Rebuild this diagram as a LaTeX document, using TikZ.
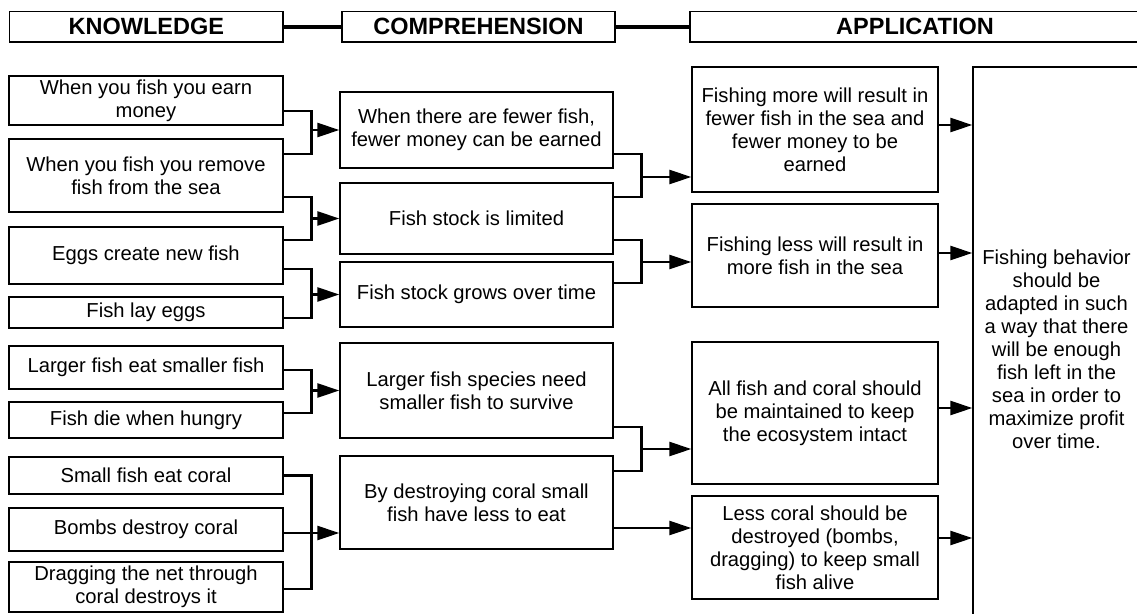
\documentclass[tikz,border=0pt]{standalone}
\usepackage{fontspec}
\setmainfont{Liberation Sans}
\usetikzlibrary{positioning,arrows.meta}

\begin{document}
\begin{tikzpicture}[x=1pt, y=-1pt, >={Triangle[length=22pt,width=14pt]},
		box/.style={draw, line width=1.3pt, align=center, inner sep=0pt, font=\fontsize{20.2}{23}\selectfont},
		kbox/.style={box, minimum width=274pt},
		cbox/.style={box, minimum width=273pt},
		abox/.style={box, minimum width=246pt},
		head/.style={draw, line width=1.3pt, inner sep=0pt, minimum height=30.6pt, font=\fontsize{23.5}{28}\selectfont\bfseries},
		link/.style={line width=2.3pt},
		headlink/.style={line width=4pt}]
		\clip (0,0) rectangle (1137,613);

		\node[head, minimum width=273.4pt] (hK) at (146.3,26.7) {KNOWLEDGE};
		\node[head, minimum width=273pt] (hC) at (478.5,26.7) {COMPREHENSION};
		\node[head, minimum width=450pt] (hA) at (915,26.7) {APPLICATION};
		\draw[headlink] (hK.east) -- (hC.west);
		\draw[headlink] (hC.east) -- (hA.west);

		\node[kbox, minimum height=49pt] (K1) at (146,100.5) {When you fish you earn\\money};
		\node[kbox, minimum height=73pt] (K2) at (146,175.5) {When you fish you remove\\fish from the sea};
		\node[kbox, minimum height=57pt] (K3) at (146,255.5) {Eggs create new fish};
		\node[kbox, minimum height=31pt] (K4) at (146,312.5) {Fish lay eggs};
		\node[kbox, minimum height=43pt] (K5) at (146,367.5) {Larger fish eat smaller fish};
		\node[kbox, minimum height=36pt] (K6) at (146,420) {Fish die when hungry};
		\node[kbox, minimum height=37pt] (K7) at (146,475.5) {Small fish eat coral};
		\node[kbox, minimum height=43pt] (K8) at (146,529.5) {Bombs destroy coral};
		\node[kbox, minimum height=50pt] (K9) at (146,587) {Dragging the net through\\coral destroys it};

		\node[cbox, minimum height=76pt] (C1) at (476.5,130) {When there are fewer fish,\\fewer money can be earned};
		\node[cbox, minimum height=71pt] (C2) at (476.5,218.5) {Fish stock is limited};
		\node[cbox, minimum height=65pt] (C3) at (476.5,294.5) {Fish stock grows over time};
		\node[cbox, minimum height=95pt] (C4) at (476.5,390.5) {Larger fish species need\\smaller fish to survive};
		\node[cbox, minimum height=93pt] (C5) at (476.5,502.5) {By destroying coral small\\fish have less to eat};

		\node[abox, minimum height=125pt] (A1) at (815,129.5) {Fishing more will result in\\fewer fish in the sea and\\fewer money to be\\earned};
		\node[abox, minimum height=103pt] (A2) at (815,255.5) {Fishing less will result in\\more fish in the sea};
		\node[abox, minimum height=142pt] (A3) at (815,413) {All fish and coral should\\be maintained to keep\\the ecosystem intact};
		\node[abox, minimum height=103pt] (A4) at (815,547.5) {Less coral should be\\destroyed (bombs,\\dragging) to keep small\\fish alive};

		\node[box, minimum width=167pt, minimum height=564pt] (F) at (1056.5,349) {Fishing behavior\\should be\\adapted in such\\a way that there\\will be enough\\fish left in the\\sea in order to\\maximize profit\\over time.};

		\coordinate (j1) at ([xshift=-28pt]C1.west);
		\coordinate (j2) at ([xshift=-28pt]C2.west);
		\coordinate (j3) at ([xshift=-28pt]C3.west);
		\coordinate (j4) at ([xshift=-28pt]C4.west);
		\coordinate (j5) at ([xshift=-28pt,yshift=-30.5pt]C5.west);
		\coordinate (m1) at ([xshift=-50pt,yshift=-47.5pt]A1.west);
		\coordinate (m2) at ([xshift=-50pt,yshift=-6.5pt]A2.west);
		\coordinate (m3) at ([xshift=-50pt,yshift=-36pt]A3.west);
		\coordinate (r1) at ([yshift=4.5pt]A1.east);
		\coordinate (r2) at ([yshift=2.5pt]A2.east);
		\coordinate (r3) at ([yshift=5pt]A3.east);
		\coordinate (r4) at ([yshift=9.5pt]A4.east);

		\draw[link] ([yshift=-10.5pt]K1.east) -| (j1);
		\draw[link] ([yshift=21.5pt]K2.east) -| (j1);
		\draw[link,->] (j1) -- (C1.west);
		\draw[link] ([yshift=-21.5pt]K2.east) -| (j2);
		\draw[link] ([yshift=15.5pt]K3.east) -| (j2);
		\draw[link,->] (j2) -- (C2.west);
		\draw[link] ([yshift=-13.5pt]K3.east) -| (j3);
		\draw[link] ([yshift=-5.5pt]K4.east) -| (j3);
		\draw[link,->] (j3) -- (C3.west);
		\draw[link] ([yshift=-2.5pt]K5.east) -| (j4);
		\draw[link] ([yshift=7pt]K6.east) -| (j4);
		\draw[link,->] (j4) -- (C4.west);
		\draw[link] (K7.east) -| (j5);
		\draw[link] ([yshift=-2pt]K9.east) -| (j5);
		\draw[link,->] ([yshift=-3.5pt]K8.east) -- (j5 -| C5.west);

		\draw[link] ([yshift=-24pt]C1.east) -| (m1);
		\draw[link] ([yshift=21.5pt]C2.east) -| (m1);
		\draw[link,->] (m1) -- (m1 -| A1.west);
		\draw[link] ([yshift=-21.5pt]C2.east) -| (m2);
		\draw[link] ([yshift=11.5pt]C3.east) -| (m2);
		\draw[link,->] (m2) -- (m2 -| A2.west);
		\draw[link] ([yshift=-36.5pt]C4.east) -| (m3);
		\draw[link] ([yshift=31.5pt]C5.east) -| (m3);
		\draw[link,->] (m3) -- (m3 -| A3.west);
		\draw[link,->] ([yshift=-25.5pt]C5.east) -- ([yshift=19.5pt]A4.west);

		\draw[link,->] (r1) -- (r1 -| F.west);
		\draw[link,->] (r2) -- (r2 -| F.west);
		\draw[link,->] (r3) -- (r3 -| F.west);
		\draw[link,->] (r4) -- (r4 -| F.west);
	\end{tikzpicture}
\end{document}
